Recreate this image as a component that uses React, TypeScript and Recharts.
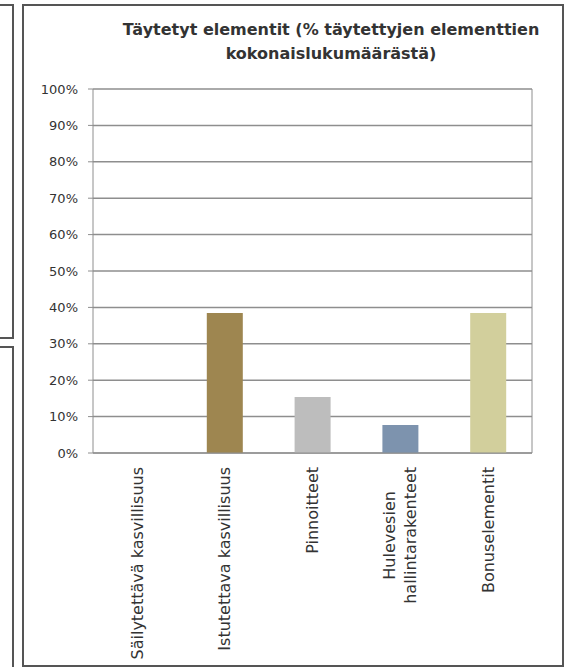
import React from "react";
import { BarChart, Bar, Cell, XAxis, YAxis, CartesianGrid } from "recharts";

// osuudet täytetyistä elementeistä (5 + 2 + 1 + 5 = 13 kpl)
const categories = [
  "Säilytettävä kasvillisuus",
  "Istutettava kasvillisuus",
  "Pinnoitteet",
  "Hulevesien hallintarakenteet",
  "Bonuselementit",
];
const shares = [0, 38.46, 15.38, 7.69, 38.46];
const barColors = ["#4f81bd", "#9e8650", "#bdbdbd", "#7d93ae", "#d2cf9c"];
const yTicks = [0, 10, 20, 30, 40, 50, 60, 70, 80, 90, 100];
const edgeTicks = [0, 1, 2, 3, 4, 5];

const data = categories.map((name, i) => ({ name, share: shares[i] }));

const FONT = '"DejaVu Sans", "Liberation Sans", sans-serif';
const LABEL_SIZE = 16;

let ctx: CanvasRenderingContext2D | null = null;
function measure(s: string) {
  if (!ctx) ctx = document.createElement("canvas").getContext("2d");
  if (!ctx) return s.length * LABEL_SIZE * 0.55;
  ctx.font = `${LABEL_SIZE}px "DejaVu Sans"`;
  return ctx.measureText(s).width;
}

// Excel rivittää liian pitkät nimet kahdelle riville
function wrap(s: string) {
  if (s.length <= 26) return [s];
  const k = s.indexOf(" ");
  return [s.slice(0, k), s.slice(k + 1)];
}

function CatTick({ x, y, payload }: any) {
  const lines = wrap(String(payload.value));
  const maxW = Math.max(...lines.map(measure));
  const lh = 21;
  return (
    <g transform={`translate(${x},${y}) rotate(-90)`}>
      {lines.map((l, i) => (
        <text key={i} x={-maxW / 2} y={(i - (lines.length - 1) / 2) * lh} dy="0.35em"
          textAnchor="middle" fontSize={LABEL_SIZE} fontFamily={FONT} fill="#333">
          {l}
        </text>
      ))}
    </g>
  );
}

export default function App() {
  return (
    <div style={{ position: "absolute", left: 0, top: 0, width: 572, height: 667, background: "#fff", overflow: "hidden" }}>
      {/* viereisten kaavioiden reunat */}
      <div style={{ position: "absolute", left: -60, top: 4, width: 70, height: 331, border: "2px solid #555" }} />
      <div style={{ position: "absolute", left: -60, top: 346, width: 70, height: 400, border: "2px solid #555" }} />
      <div style={{ position: "absolute", left: 22, top: 4, width: 538, height: 659, border: "2px solid #555" }} />

      <div style={{ position: "absolute", left: 100, top: 18, width: 462, textAlign: "center",
        fontFamily: FONT, fontWeight: "bold", fontSize: 16, lineHeight: "24px", color: "#333" }}>
        Täytetyt elementit (% täytettyjen elementtien<br />kokonaislukumäärästä)
      </div>

      <div style={{ position: "absolute", left: 0, top: 0 }}>
        <BarChart width={572} height={667} data={data}
          margin={{ top: 89, right: 39, bottom: 8, left: 33 }}>
          <CartesianGrid xAxisId="b" vertical={false} stroke="#8e8e8e" strokeWidth={1.5} />
          {/* reunatikit luokkien välissä (Excel-tyyli) */}
          <XAxis xAxisId="a" type="number" domain={[0, 5]} ticks={edgeTicks} interval={0}
            tick={false} tickSize={5} height={6} stroke="#8e8e8e" />
          <XAxis xAxisId="b" dataKey="name" interval={0} axisLine={false} tickLine={false} tickSize={0}
            tickMargin={8} height={200} tick={<CatTick />} />
          <YAxis domain={[0, 100]} ticks={yTicks} interval={0} width={60} tickSize={5} tickMargin={10}
            stroke="#8e8e8e" tickFormatter={(v) => `${v}%`}
            tick={{ fill: "#333", fontSize: 13, fontFamily: FONT }} />
          <YAxis yAxisId="right" orientation="right" domain={[0, 100]} tick={false} tickLine={false}
            width={1} stroke="#8e8e8e" />
          <Bar xAxisId="b" dataKey="share" barSize={36} isAnimationActive={false}>
            {data.map((d, i) => <Cell key={d.name} fill={barColors[i]} />)}
          </Bar>
        </BarChart>
      </div>
    </div>
  );
}
